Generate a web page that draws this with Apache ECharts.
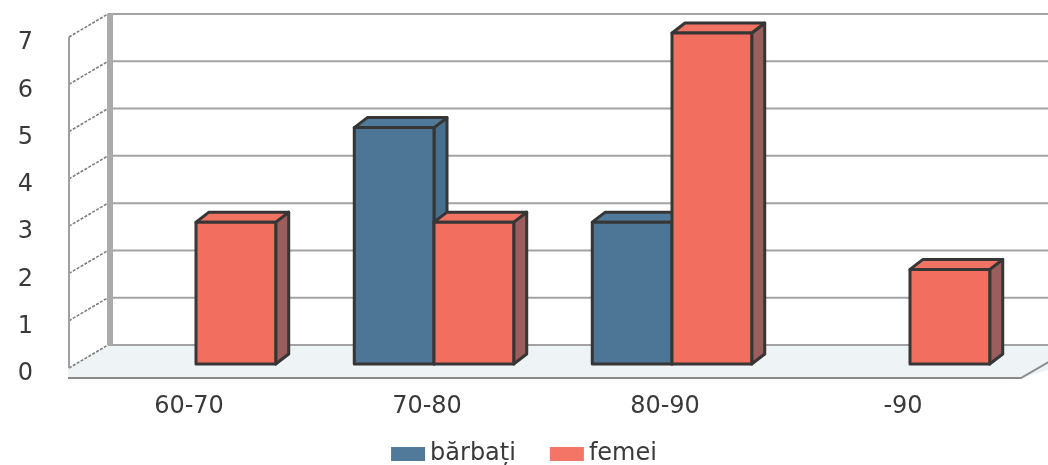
<!DOCTYPE html>
<html>
<head>
<meta charset="utf-8">
<script src="https://cdn.jsdelivr.net/npm/echarts@6/dist/echarts.min.js"></script>
<style>
html,body{margin:0;padding:0;background:#ffffff;}
#chart{width:1048px;height:465px;}
</style>
</head>
<body>
<div id="chart"></div>
<script>
const categories = ['60-70', '70-80', '80-90', '-90'];
const seriesNames = ['bărbați', 'femei'];
const barbati = [0, 5, 3, 0];
const femei = [3, 3, 7, 2];
const yMin = 0, yMax = 7, yStep = 1;

const FONT = 'DejaVu Sans';
const TXT = '#3a3a3a';
const BACK = {dx: 31, dy: -19};
const FRONT = {dx: -8, dy: 4};
const DEPTH = {dx: 13, dy: -10};

const chart = echarts.init(document.getElementById('chart'), null, {renderer: 'canvas'});

function renderWalls(params, api) {
  const cs = params.coordSys;
  const x0 = cs.x, w = cs.width;
  const children = [];
  const yb0 = api.coord([0, yMin])[1];
  const yb7 = api.coord([0, yMax])[1];
  // floor slab
  const fl = x0 + FRONT.dx - 1, fr = x0 + w + FRONT.dx;
  const bl = x0 + BACK.dx, br = x0 + w + BACK.dx + 40;
  children.push({
    type: 'polygon',
    shape: {points: [[bl, yb0 + BACK.dy], [br, yb0 + BACK.dy], [br, yb0 + BACK.dy + 10],
      [fr, yb0 + 14], [fl, yb0 + 14], [fl, yb0 + FRONT.dy]]},
    style: {fill: '#eef3f6', stroke: null}
  });
  children.push({
    type: 'polyline',
    shape: {points: [[fl, yb0 + 14], [fr, yb0 + 14], [fr + 33, yb0 + 14 - 19]]},
    style: {stroke: '#8a8a8a', lineWidth: 2, fill: null}
  });
  // back wall gridlines
  for (let v = yMin; v <= yMax; v += yStep) {
    const y = api.coord([0, v])[1] + BACK.dy;
    children.push({
      type: 'line',
      shape: {x1: bl, y1: y, x2: br, y2: y},
      style: {stroke: '#a3a3a3', lineWidth: 2}
    });
  }
  // left wall diagonals
  for (let v = yMin; v <= yMax; v += yStep) {
    const y = api.coord([0, v])[1];
    children.push({
      type: 'line',
      shape: {x1: x0 + FRONT.dx, y1: y + FRONT.dy, x2: bl, y2: y + BACK.dy},
      style: {stroke: '#7d7d7d', lineWidth: 1.6, lineDash: [3, 1.5]}
    });
  }
  // left wall front edge
  children.push({
    type: 'line',
    shape: {x1: x0 + FRONT.dx, y1: yb7 + FRONT.dy, x2: x0 + FRONT.dx, y2: yb0 + FRONT.dy},
    style: {stroke: '#a0a0a0', lineWidth: 2}
  });
  // back wall left edge (thick)
  children.push({
    type: 'rect',
    shape: {x: bl - 1, y: yb7 + BACK.dy, width: 6, height: yb0 - yb7},
    style: {fill: '#ababab'}
  });
  return {type: 'group', children: children};
}

function makeBarRenderer(idx, front, top, side) {
  return function (params, api) {
    const cat = api.value(0), v = api.value(1);
    if (!v) return null;
    const base = api.coord([cat, 0]);
    const tp = api.coord([cat, v]);
    const band = api.size([1, 0])[0];
    const barW = band * (1 - 0.33) / 2;
    const left = base[0] - barW + idx * barW;
    const right = left + barW;
    const yT = tp[1], yB = base[1];
    const dx = DEPTH.dx, dy = DEPTH.dy;
    const stroke = {stroke: '#363636', lineWidth: 3, lineJoin: 'round'};
    return {
      type: 'group',
      children: [
        {type: 'polygon', shape: {points: [[right, yT], [right + dx, yT + dy], [right + dx, yB + dy], [right, yB]]},
          style: Object.assign({fill: side}, stroke)},
        {type: 'polygon', shape: {points: [[left, yT], [left + dx, yT + dy], [right + dx, yT + dy], [right, yT]]},
          style: Object.assign({fill: top}, stroke)},
        {type: 'rect', shape: {x: left, y: yT, width: barW, height: yB - yT},
          style: Object.assign({fill: front}, stroke)}
      ]
    };
  };
}

const option = {
  backgroundColor: '#ffffff',
  animation: false,
  grid: {left: 77, right: 19, top: 33, bottom: 101, containLabel: false},
  xAxis: {
    type: 'category',
    data: categories,
    axisLine: {show: false},
    axisTick: {show: false},
    splitLine: {show: false},
    axisLabel: {
      fontFamily: FONT, fontSize: 24, color: TXT, margin: 31,
      padding: [0, 14, 0, 0]
    }
  },
  yAxis: {
    type: 'value',
    min: yMin, max: yMax, interval: yStep,
    axisLine: {show: false},
    axisTick: {show: false},
    splitLine: {show: false},
    axisLabel: {
      fontFamily: FONT, fontSize: 24, color: TXT, margin: 44,
      verticalAlign: 'top', lineHeight: 20
    }
  },
  legend: {
    data: seriesNames,
    top: 437,
    left: 'center',
    icon: 'rect',
    itemWidth: 34,
    itemHeight: 14,
    itemGap: 34,
    textStyle: {fontFamily: FONT, fontSize: 24, color: TXT}
  },
  series: [
    {
      type: 'custom',
      name: 'walls',
      silent: true,
      clip: false,
      z: 1,
      renderItem: renderWalls,
      data: [[0, 0]]
    },
    {
      type: 'custom',
      name: seriesNames[0],
      z: 2,
      clip: false,
      itemStyle: {color: '#50799a'},
      encode: {x: 0, y: 1},
      renderItem: makeBarRenderer(0, '#4d7595', '#4f7a9b', '#46708e'),
      data: categories.map((c, i) => [i, barbati[i]])
    },
    {
      type: 'custom',
      name: seriesNames[1],
      z: 3,
      clip: false,
      itemStyle: {color: '#f47565'},
      encode: {x: 0, y: 1},
      renderItem: makeBarRenderer(1, '#f26e5e', '#f07363', '#9c5e5c'),
      data: categories.map((c, i) => [i, femei[i]])
    }
  ]
};
chart.setOption(option);
</script>
</body>
</html>
